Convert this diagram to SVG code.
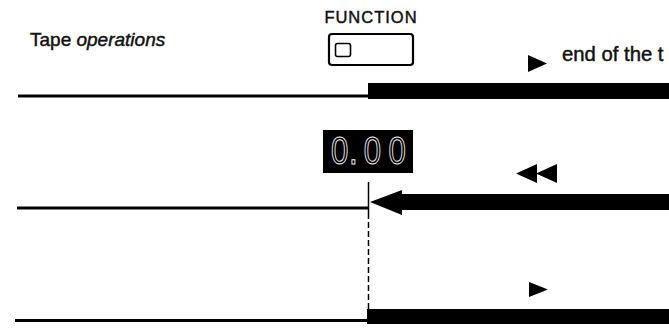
<svg xmlns="http://www.w3.org/2000/svg" width="669" height="331" viewBox="0 0 669 331">
  <style>
    .lbl { font-family: "Liberation Sans", Arial, sans-serif; fill: #111; stroke: #111; stroke-width: 0.45; }
    .ink { fill: #000; }
    .thin { stroke: #000; stroke-width: 2.8; fill: none; }
    .seg { font-family: "Liberation Sans", Arial, sans-serif; font-size: 38px; fill: #000; stroke: #f4f4f4; stroke-width: 1; }
  </style>
  <rect width="669" height="331" fill="#fff"/>

  <g id="title">
    <text class="lbl" x="30" y="46" font-size="19">Tape <tspan font-style="italic">operations</tspan></text>
  </g>

  <g id="function-button">
    <text class="lbl" x="371" y="23" font-size="16.5" text-anchor="middle" letter-spacing="1">FUNCTION</text>
    <rect x="329" y="34" width="84" height="31" rx="3" fill="none" stroke="#000" stroke-width="2.2"/>
    <rect x="335.5" y="43.5" width="15" height="13" rx="2" fill="none" stroke="#000" stroke-width="1.6"/>
  </g>

  <g id="counter-display">
    <rect x="323" y="130" width="90" height="43" class="ink"/>
    <text class="seg" transform="translate(331,164) scale(0.82,1)"><tspan x="0">0</tspan><tspan x="22">.</tspan><tspan x="40">0</tspan><tspan x="70">0</tspan></text>
  </g>

  <g id="track-1">
    <line class="thin" x1="18" y1="96" x2="368" y2="96"/>
    <rect x="368" y="83" width="301" height="16" class="ink"/>
    <polygon class="ink" points="528,55 547,63.5 528,72"/>
    <text class="lbl" x="562" y="61" font-size="20.3">end of the t</text>
  </g>

  <g id="track-2">
    <line class="thin" x1="17" y1="208" x2="368" y2="208"/>
    <polygon class="ink" points="370,202 402,190 402,194 669,194 669,210 402,210 402,215"/>
    <polygon class="ink" points="516,173.5 537,164 537,183"/>
    <polygon class="ink" points="536,173.5 557,164 557,183"/>
  </g>

  <g id="track-3">
    <line class="thin" x1="15" y1="320.5" x2="368" y2="320.5"/>
    <rect x="367" y="309" width="302" height="15" class="ink"/>
    <polygon class="ink" points="529,282 548,289.5 529,297"/>
  </g>

  <g id="connectors">
    <line x1="368.5" y1="182" x2="368.5" y2="213" stroke="#000" stroke-width="1.5"/>
    <line x1="368.5" y1="213" x2="368.5" y2="309" stroke="#000" stroke-width="1.5" stroke-dasharray="6,3"/>
  </g>
</svg>
